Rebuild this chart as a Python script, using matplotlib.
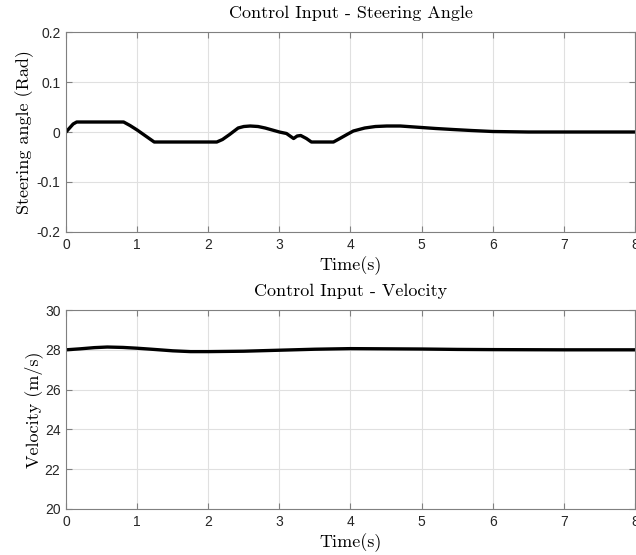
import matplotlib
matplotlib.use("Agg")
import matplotlib.pyplot as plt

# steering angle (rad)
t_steer = [0.0, 0.05, 0.1, 0.15, 0.3, 0.5, 0.81, 0.9, 1.0, 1.1, 1.24, 1.5, 1.8, 2.12,
           2.2, 2.3, 2.42, 2.5, 2.59, 2.7, 2.8, 2.9, 3.0, 3.1, 3.2, 3.25, 3.3, 3.38,
           3.45, 3.6, 3.76, 3.85, 3.95, 4.04, 4.2, 4.35, 4.51, 4.7, 5.0, 5.2, 5.44,
           5.7, 6.0, 6.5, 7.0, 7.5, 8.0]
steer = [0.0, 0.008, 0.016, 0.02, 0.02, 0.02, 0.02, 0.013, 0.004, -0.006, -0.02,
         -0.02, -0.02, -0.02, -0.015, -0.005, 0.008, 0.011, 0.012, 0.011, 0.008,
         0.004, 0.0, -0.003, -0.013, -0.008, -0.007, -0.013, -0.02, -0.02, -0.02,
         -0.013, -0.005, 0.002, 0.008, 0.011, 0.012, 0.012, 0.009, 0.007, 0.005,
         0.003, 0.001, 0.0, 0.0, 0.0, 0.0]

# velocity (m/s)
t_vel = [0.0, 0.2, 0.4, 0.58, 0.8, 1.0, 1.2, 1.5, 1.75, 2.0, 2.5, 3.0, 3.5, 4.0,
         4.5, 5.0, 5.5, 6.0, 7.0, 8.0]
vel = [28.0, 28.05, 28.11, 28.14, 28.12, 28.08, 28.03, 27.95, 27.91, 27.91, 27.93,
       27.98, 28.03, 28.06, 28.05, 28.04, 28.02, 28.01, 28.0, 28.0]

plt.rcParams["font.family"] = ["Liberation Sans", "DejaVu Sans"]
SERIF = "cmr10"

fig = plt.figure(figsize=(6.36, 5.55), dpi=100)
ax1 = fig.add_axes([0.1038, 0.582, 0.8946, 0.3603])
ax2 = fig.add_axes([0.1038, 0.0829, 0.8946, 0.3585])


def style(ax):
    ax.set_xlim(0, 8)
    ax.set_xticks(range(0, 9))
    ax.grid(True, color="#e0e0e0", linewidth=0.8)
    ax.set_axisbelow(True)
    ax.tick_params(direction="in", top=True, right=True, length=4,
                   colors="#808080", labelcolor="#262626", labelsize=10, pad=4)
    for s in ax.spines.values():
        s.set_color("#808080")
        s.set_linewidth(0.8)
    ax.set_xlabel("Time(s)", fontsize=13, labelpad=3.5, fontfamily=SERIF)


ax1.plot(t_steer, steer, color="black", linewidth=2.4)
ax1.set_ylim(-0.2, 0.2)
ax1.set_yticks([-0.2, -0.1, 0, 0.1, 0.2])
ax1.set_yticklabels(["-0.2", "-0.1", "0", "0.1", "0.2"])
style(ax1)
ax1.set_title("Control Input - Steering Angle", fontsize=13, pad=10, fontfamily=SERIF)
ax1.set_ylabel("Steering angle (Rad)", fontsize=13, labelpad=2, fontfamily=SERIF)

ax2.plot(t_vel, vel, color="black", linewidth=2.4)
ax2.set_ylim(20, 30)
ax2.set_yticks([20, 22, 24, 26, 28, 30])
style(ax2)
ax2.set_title("Control Input - Velocity", fontsize=13, pad=10, fontfamily=SERIF)
ax2.set_ylabel("Velocity (m/s)", fontsize=13, labelpad=1, fontfamily=SERIF)

fig.savefig("out.png", dpi=100)
